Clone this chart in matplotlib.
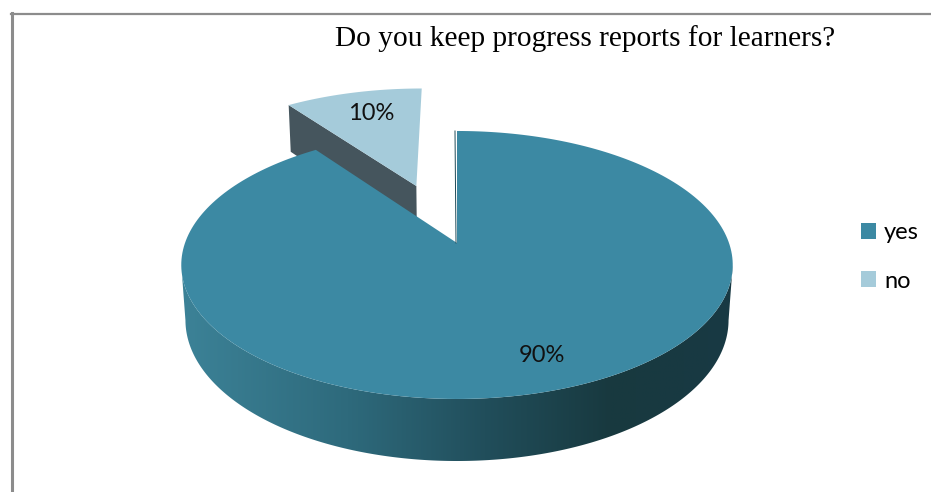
import numpy as np
import matplotlib
matplotlib.use('Agg')
import matplotlib.pyplot as plt
from matplotlib.patches import Polygon, Patch
from matplotlib.colors import LinearSegmentedColormap

W, H = 931, 492

# data
title = 'Do you keep progress reports for learners?'
labels = ['yes', 'no']
values = [90, 10]
value_labels = ['90%', '10%']

top_colors = ['#3C89A3', '#A5CBDA']
small_wall = '#45555D'
wall_stops = [(0.0, '#3C8297'), (0.3, '#2E6A7C'), (0.55, '#214E5B'), (0.78, '#18393F'), (1.0, '#183A44')]

# projection of the pie disc
CX, CY = 457, 265
SX = 272
SY = 134
TILT = 0.164
SHIFT = 22
DEPTH = 54.8
SHRINK = 0.015
EXPLODE = 0.495
EXPLODE_SIDE = -0.008


def project(u, v, bottom=False):
    w = 1 + TILT * v + (SHRINK if bottom else 0)
    y = SY * v + SHIFT - (DEPTH if bottom else 0)
    return CX + SX * u / w, CY - y / w


def wedge(a0, a1, off=(0, 0)):
    # angles are clockwise from the top of the disc
    t = np.radians(np.linspace(a0, a1, 240))
    u = np.r_[off[0], off[0] + np.sin(t)]
    v = np.r_[off[1], off[1] + np.cos(t)]
    return np.column_stack(project(u, v))


def rim(a0, a1, bottom=False):
    t = np.radians(np.linspace(a0, a1, 300))
    return np.column_stack(project(np.sin(t), np.cos(t), bottom))


fig = plt.figure(figsize=(W / 100, H / 100), dpi=100)
ax = fig.add_axes([0, 0, 1, 1])
ax.set_xlim(0, W)
ax.set_ylim(H, 0)
ax.axis('off')

# chart frame
ax.plot([W + 5, 11], [13.5, 13.5], color='#8C8C8C', lw=1.6, zorder=1)
ax.plot([11.5, 11.5], [H + 5, 13], color='#8C8C8C', lw=2.2, zorder=1)

angles = np.cumsum([0] + values) * 3.6
big_start, big_end, small_end = angles

# "no" slice is pulled out along its bisector
mid = np.radians((big_end + small_end) / 2)
off = (EXPLODE * np.sin(mid) + EXPLODE_SIDE, EXPLODE * np.cos(mid))

# side wall of the pulled out slice
t = np.radians(big_end)
edge_u = np.array([off[0], off[0] + np.sin(t)])
edge_v = np.array([off[1], off[1] + np.cos(t)])
top_a = np.column_stack(project(edge_u, edge_v))
bot_a = np.column_stack(project(edge_u, edge_v, True))
ax.add_patch(Polygon(np.vstack([top_a, bot_a[::-1]]), fc=small_wall, ec='none', zorder=2))
ax.add_patch(Polygon(wedge(big_end, small_end, off), fc=top_colors[1], ec='none', zorder=3))

# side wall of the big slice, shaded left to right, between the silhouette tangents
tangent = np.degrees(np.arccos(-TILT))
top_rim = rim(tangent, 360 - tangent)
bot_rim = rim(tangent, 360 - tangent, bottom=True)
wall = Polygon(np.vstack([top_rim, bot_rim[::-1]]), fc='none', ec='none', zorder=4)
ax.add_patch(wall)
cmap = LinearSegmentedColormap.from_list('wall', wall_stops)
shade = ax.imshow(np.linspace(0, 1, 256)[None, :], cmap=cmap, vmin=0, vmax=1,
                  extent=[182, 733, 470, 240], aspect='auto', zorder=4)
shade.set_clip_path(wall)
ax.set_xlim(0, W)
ax.set_ylim(H, 0)

ax.add_patch(Polygon(wedge(big_start, big_end), fc=top_colors[0], ec='none', zorder=5))
# dark sliver on the cut face at the top of the slice
ax.plot([CX - 1, CX - 2], [243, 131], color='#1E4A57', lw=0.7, zorder=6)

# percentage labels
label_font = ['Lato', 'DejaVu Sans']
ax.text(542, 356, value_labels[0], fontsize=17, family=label_font, ha='center', va='center', color='#111111', zorder=7)
ax.text(371, 114, value_labels[1], fontsize=17, family=label_font, ha='center', va='center', color='#111111', zorder=7)

ax.text(585, 39, title, fontsize=21.2, family=['Liberation Serif'], ha='center', va='center', color='black', zorder=7)

# legend
handles = [Patch(fc=c, ec='none') for c in top_colors]
ax.legend(handles, labels, loc='center left', bbox_to_anchor=(861 / W, 1 - 257 / H), frameon=False,
          prop={'family': 'Lato', 'size': 17}, handlelength=0.64, handleheight=0.64, handletextpad=0.34,
          labelspacing=1.15, borderpad=0, borderaxespad=0)

fig.savefig('out.png', dpi=100)
